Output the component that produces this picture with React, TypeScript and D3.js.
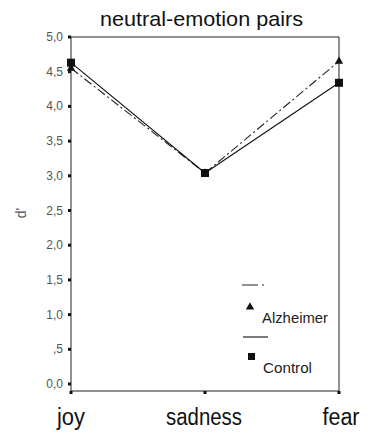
import React from "react";
import * as d3 from "d3";

const categories = ["joy", "sadness", "fear"];
const alzheimer = [4.55, 3.04, 4.65];
const control = [4.63, 3.04, 4.34];
const yTicks = [0, 0.5, 1, 1.5, 2, 2.5, 3, 3.5, 4, 4.5, 5];
const yTickLabels = ["0,0", ",5", "1,0", "1,5", "2,0", "2,5", "3,0", "3,5", "4,0", "4,5", "5,0"];
const title = "neutral-emotion pairs";
const yLabel = "d'";
const seriesNames = ["Alzheimer", "Control"];

export default function App() {
  const W = 368, H = 437;
  const left = 71, right = 339, top = 37, axisY = 391;
  const x = d3.scalePoint<string>().domain(categories).range([left, right]);
  const y = d3.scaleLinear().domain([0, 5]).range([384, top]);
  const line = d3
    .line<number>()
    .x((_, i) => x(categories[i]) as number)
    .y((d) => y(d));
  const font = "'Liberation Sans', Arial, sans-serif";
  const tri = d3.symbol().type(d3.symbolTriangle).size(30)();
  const xLabelWidths: Record<string, number> = { joy: 28, sadness: 76, fear: 37 };
  const xLabelCenters: Record<string, number> = { joy: 71, sadness: 204, fear: 341 };
  return (
    <svg
      width={W}
      height={H}
      style={{ position: "absolute", left: 0, top: 0, background: "#fff" }}
      fontFamily={font}
    >
      <text x={100} y={26} fontSize={21} textLength={203} lengthAdjust="spacingAndGlyphs" fill="#111">
        {title}
      </text>
      {/* frame */}
      <line x1={left} x2={left} y1={top} y2={axisY} stroke="#222" strokeWidth={1} />
      <line x1={right} x2={right} y1={top} y2={axisY} stroke="#222" strokeWidth={1} />
      <line x1={left} x2={right} y1={top} y2={top} stroke="#222" strokeWidth={1} />
      <line x1={left} x2={right} y1={axisY} y2={axisY} stroke="#222" strokeWidth={1} />
      {/* y ticks */}
      {yTicks.map((t, i) => (
        <g key={t}>
          <rect x={left - 3} y={y(t) - 1.5} width={3} height={3} fill="#111" />
          <text x={left - 8} y={y(t) + 4} textAnchor="end" fontSize={12} fill="#555">
            {yTickLabels[i]}
          </text>
        </g>
      ))}
      <text
        transform={`translate(26,213) rotate(-90)`}
        textAnchor="middle"
        fontSize={14}
        fill="#555"
      >
        {yLabel}
      </text>
      {/* x ticks */}
      {categories.map((c) => (
        <g key={c}>
          <rect x={(x(c) as number) - 1.5} y={axisY} width={3} height={3} fill="#111" />
          <text
            x={xLabelCenters[c] - xLabelWidths[c] / 2}
            y={425}
            fontSize={23}
            textLength={xLabelWidths[c]}
            lengthAdjust="spacingAndGlyphs"
            fill="#111"
          >
            {c}
          </text>
        </g>
      ))}
      {/* series */}
      <path d={line(alzheimer) || ""} fill="none" stroke="#222" strokeWidth={1.1} strokeDasharray="9,3,2,3" />
      <path d={line(control) || ""} fill="none" stroke="#111" strokeWidth={1.1} />
      {alzheimer.map((v, i) => (
        <path key={"a" + i} d={tri || ""} transform={`translate(${x(categories[i])},${y(v)})`} fill="#111" />
      ))}
      {control.map((v, i) => (
        <rect key={"c" + i} x={(x(categories[i]) as number) - 4} y={y(v) - 4} width={8} height={8} fill="#111" />
      ))}
      {/* legend */}
      <line x1={242} x2={267} y1={285} y2={285} stroke="#222" strokeWidth={1.1} strokeDasharray="16,4,2,3" />
      <path d={tri || ""} transform="translate(250,307)" fill="#111" />
      <text x={262} y={323} fontSize={15} textLength={66} lengthAdjust="spacingAndGlyphs" fill="#222">{seriesNames[0]}</text>
      <line x1={243} x2={268} y1={337} y2={337} stroke="#111" strokeWidth={1.1} />
      <rect x={248} y={353} width={7} height={7} fill="#111" />
      <text x={263} y={373} fontSize={15} textLength={49} lengthAdjust="spacingAndGlyphs" fill="#222">{seriesNames[1]}</text>
    </svg>
  );
}
